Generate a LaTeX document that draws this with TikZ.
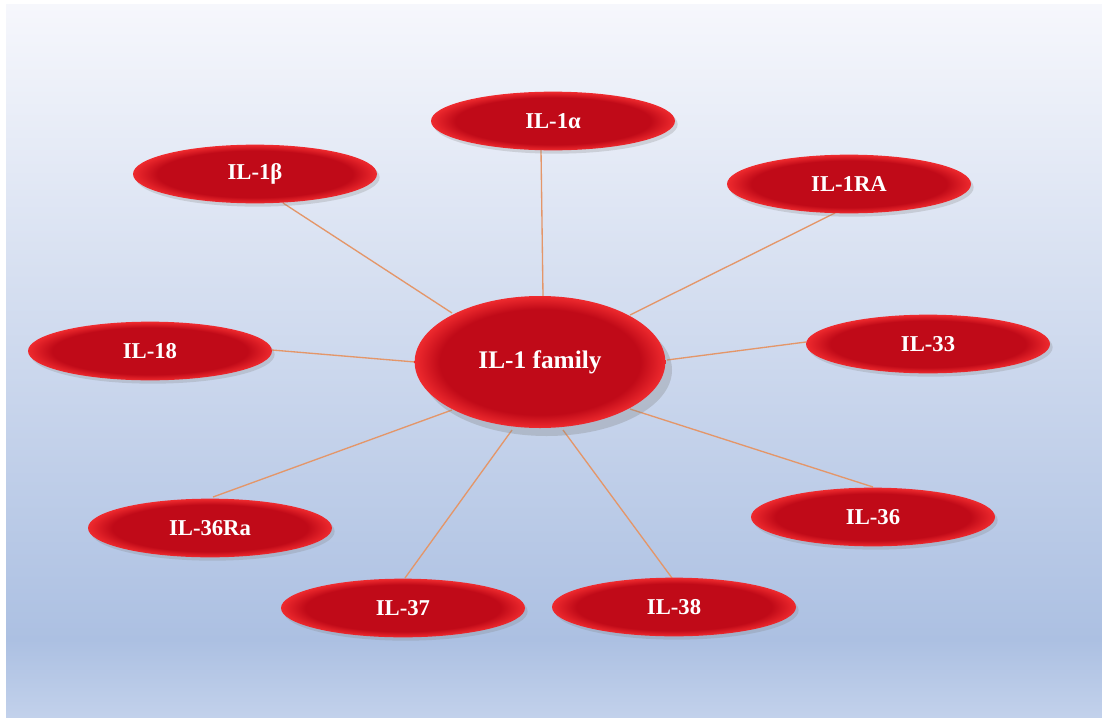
\documentclass[tikz,border=0pt]{standalone}
\usepackage{fontspec}
\setmainfont{Liberation Serif}
\usetikzlibrary{shapes.geometric,shadows,calc}
\definecolor{bgtop}{RGB}{246,247,252}
\definecolor{bgmid}{RGB}{172,192,226}
\definecolor{bgbot}{RGB}{194,209,235}
\definecolor{dkred}{RGB}{192,10,24}
\definecolor{ltred}{RGB}{238,42,46}
\definecolor{linkc}{RGB}{228,150,105}
\pgfdeclareradialshading{redglow}{\pgfpointorigin}{color(0bp)=(dkred); color(20bp)=(dkred); color(25bp)=(ltred); color(50bp)=(ltred)}
\pgfdeclarelayer{bg}
\pgfsetlayers{bg,main}
\begin{document}
\begin{tikzpicture}[x=0.75pt,y=-0.75pt,
  leaf/.style={ellipse, minimum width=183pt, minimum height=44pt, inner sep=0pt,
    shading=redglow, text=white, font=\fontsize{17}{20}\selectfont\bfseries,
    drop shadow={shadow xshift=2pt,shadow yshift=-2.5pt,opacity=0.25}},
  hub/.style={ellipse, minimum width=188pt, minimum height=99pt, inner sep=0pt,
    shading=redglow, text=white, font=\fontsize{19}{22}\selectfont\bfseries,
    drop shadow={shadow xshift=5pt,shadow yshift=-6pt,opacity=0.3}},
  linkline/.style={draw=linkc, line width=1pt}]
\useasboundingbox (0,0) rectangle (1102,717);
\begin{pgfonlayer}{bg}
\fill[top color=bgtop, bottom color=bgmid] (6,5) rectangle (1102,640);
\fill[top color=bgmid, bottom color=bgbot] (6,639.5) rectangle (1102,717);
\end{pgfonlayer}

\node[hub] (c) at (540,362) {IL-1 family};
\node[leaf] (a) at (553,121) {IL-1α};
\node[leaf] (b) at (255,174) {IL-1β};
\node[leaf] (ra) at (849,184) {IL-1RA};
\node[leaf] (i18) at (150,351) {IL-18};
\node[leaf] (i33) at (928,344) {IL-33};
\node[leaf] (i36ra) at (210,528) {IL-36Ra};
\node[leaf] (i36) at (873,517) {IL-36};
\node[leaf] (i37) at (403,608) {IL-37};
\node[leaf] (i38) at (674,607) {IL-38};

\begin{pgfonlayer}{bg}
\draw[linkline] ($(a)+(-12,29)$) -- ($(c)+(3,-66)$);
\draw[linkline] ($(b)+(28,29)$) -- ($(c)+(-88,-49)$);
\draw[linkline] ($(ra)+(-14,29)$) -- ($(c)+(90,-47)$);
\draw[linkline] ($(i18)+(122,-1)$) -- ($(c)+(-125,0)$);
\draw[linkline] ($(i33)+(-122,-2)$) -- ($(c)+(127,-2)$);
\draw[linkline] ($(i36ra)+(3,-31)$) -- ($(c)+(-88,48)$);
\draw[linkline] ($(i36)+(0,-30)$) -- ($(c)+(90,47)$);
\draw[linkline] ($(i37)+(2,-30)$) -- ($(c)+(-28,68)$);
\draw[linkline] ($(i38)+(-2,-29)$) -- ($(c)+(23,68)$);
\end{pgfonlayer}
\end{tikzpicture}
\end{document}
